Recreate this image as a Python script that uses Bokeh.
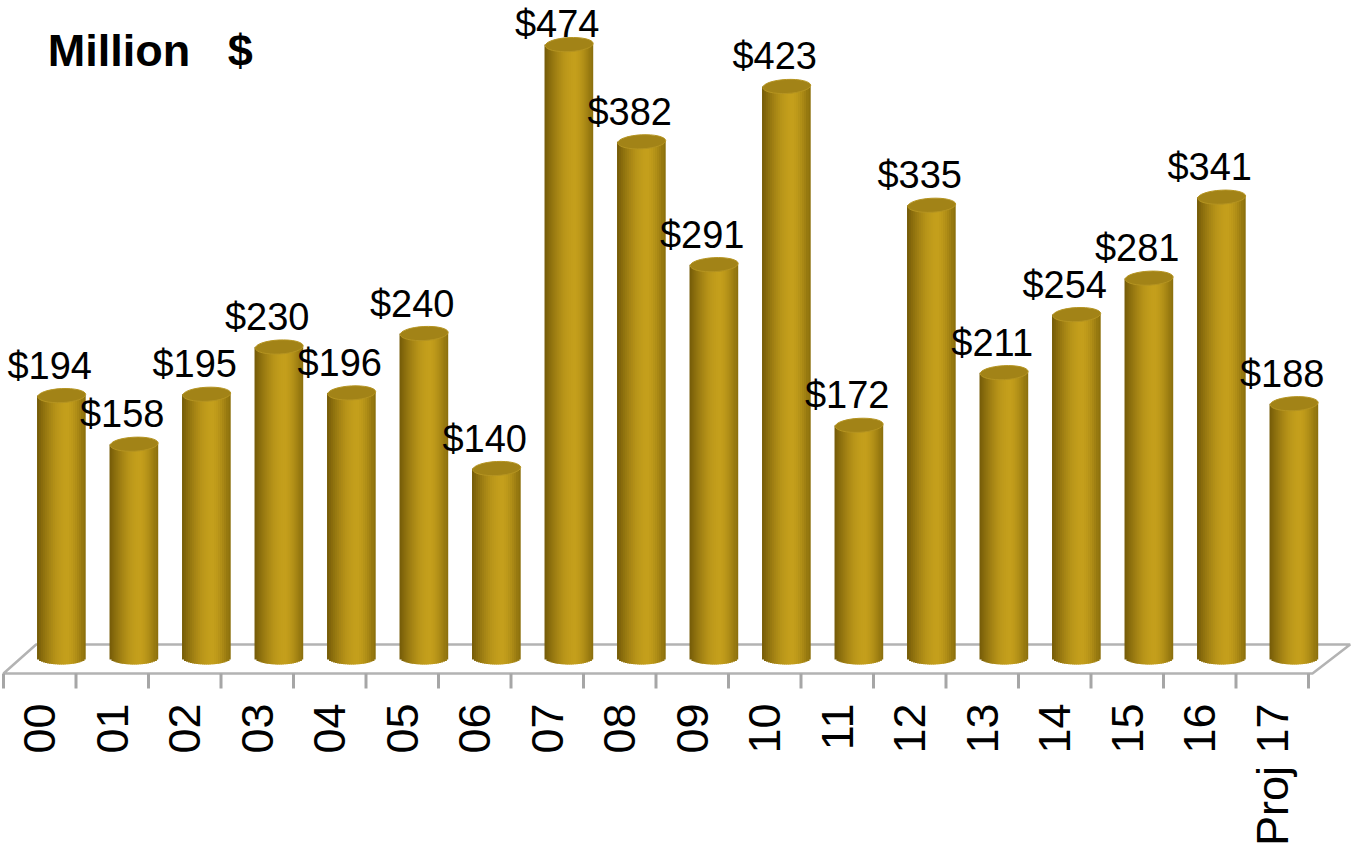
import math
import numpy as np
from bokeh.plotting import figure
from bokeh.models import Range1d, ColumnDataSource, Label
from bokeh.core.properties import value
from bokeh.embed import file_html
from bokeh.resources import INLINE

# ---------------- data ----------------
years = ["00", "01", "02", "03", "04", "05", "06", "07", "08", "09",
         "10", "11", "12", "13", "14", "15", "16", "Proj 17"]
amounts = [194, 158, 195, 230, 196, 240, 140, 474, 382, 291,
           423, 172, 335, 211, 254, 281, 341, 188]
value_labels = ["$" + str(v) for v in amounts]
title_text = "Million\u00a0\u00a0\u00a0$"

# ---------------- chart settings ----------------
AXIS_MAX = 454          # value-axis maximum: taller bars are cut at it
PX_PER_UNIT = 1.35      # vertical scale, used for screen <-> data conversions
LABEL_GAP = 30 / PX_PER_UNIT   # label centre above the cylinder top
LABEL_TOP = 469         # labels are kept inside the plot area
BAR_WIDTH = 0.662       # in category units
BAR_SHIFT = 0.303       # 3-D depth shift of the cylinders
DEPTH_X = 0.45          # floor depth (category units)
DEPTH_Y = 21.5          # floor depth (value units)
N_STRIPS = 24

n = len(years)
idx = np.arange(n)
capped = np.minimum(np.array(amounts, dtype=float), AXIS_MAX)
centers = idx + BAR_SHIFT
label_y = np.minimum(capped + LABEL_GAP, LABEL_TOP)

p = figure(width=1352, height=850,
           x_range=Range1d(-0.5414, 18.107), y_range=Range1d(-142.96, 486.67),
           output_backend="svg", toolbar_location=None,
           x_axis_location=None, y_axis_location=None,
           min_border_left=0, min_border_right=0, min_border_top=0,
           min_border_bottom=0, outline_line_color=None,
           background_fill_color="white", border_fill_color="white")
p.grid.visible = False

# ---------------- floor ----------------
front_y = -11.85
x0, x1 = -0.5, n - 0.5 + 0.055
floor_x = [x0, x1, x1 + DEPTH_X + 0.07, x0 + DEPTH_X, x0]
floor_y = [front_y, front_y, front_y + DEPTH_Y, front_y + DEPTH_Y, front_y]
p.patch(floor_x, floor_y, fill_color="white", line_color="#B3B3B3", line_width=2.5)

# category boundary ticks
bounds = [i - 0.5 for i in range(n + 1)]
tick_len = 15.0 / PX_PER_UNIT
p.segment(x0=bounds, y0=[front_y] * len(bounds), x1=bounds,
          y1=[front_y - tick_len] * len(bounds),
          line_color="#A6A6A6", line_width=3)

# ---------------- cylinders (vertical shading strips) ----------------
dark_l = np.array([116, 90, 8])
bright = np.array([196, 159, 28])
dark_r = np.array([136, 108, 12])

def shade(pos):
    if pos < 0.63:
        f = math.sin(pos / 0.63 * math.pi / 2)
        c = dark_l + (bright - dark_l) * f
    else:
        g = ((pos - 0.63) / 0.37) ** 1.6
        c = bright + (dark_r - bright) * g
    return "#%02x%02x%02x" % tuple(int(round(v)) for v in c)

ell_half = 7.0 / PX_PER_UNIT
sx, sw, sb, st, sc = [], [], [], [], []
for i in range(n):
    for j in range(N_STRIPS):
        pos = (j + 0.5) / N_STRIPS
        t = 2 * pos - 1
        sx.append(centers[i] + (pos - 0.5) * BAR_WIDTH)
        sw.append(BAR_WIDTH / N_STRIPS * (1.0 if j == N_STRIPS - 1 else 1.7))
        sb.append(-ell_half * math.sqrt(max(0.0, 1 - t * t)))
        st.append(capped[i])
        sc.append(shade(pos))
p.vbar(x=sx, width=sw, bottom=sb, top=st, fill_color=sc, line_color=None)

# top caps
p.ellipse(x=centers, y=capped, width=BAR_WIDTH, height=14, angle=0.05,
          width_units="data", height_units="screen",
          fill_color="#A28317", line_color="#B59421", line_width=1)

# ---------------- value labels ----------------
src = ColumnDataSource(dict(x=centers, y=label_y, text=value_labels))
p.text(x="x", y="y", text="text", source=src, x_offset=-12,
       text_align="center", text_baseline="middle",
       text_font=value("Liberation Sans"), text_font_size="38px",
       text_color="black")

# ---------------- category labels (rotated) ----------------
lab_src = ColumnDataSource(dict(x=idx, y=[front_y] * n, text=years))
p.text(x="x", y="y", text="text", source=lab_src, y_offset=30,
       angle=math.pi / 2, text_align="right", text_baseline="middle",
       text_font=value("Liberation Sans"), text_font_size="45px",
       text_color="black")

# ---------------- title ----------------
p.add_layout(Label(x=0.11, y=449.6, text=title_text,
                   text_font="Liberation Sans", text_font_style="bold",
                   text_font_size="45px", text_color="black",
                   text_baseline="middle", text_align="left"))

open("out.html", "w").write(file_html(p, INLINE))
